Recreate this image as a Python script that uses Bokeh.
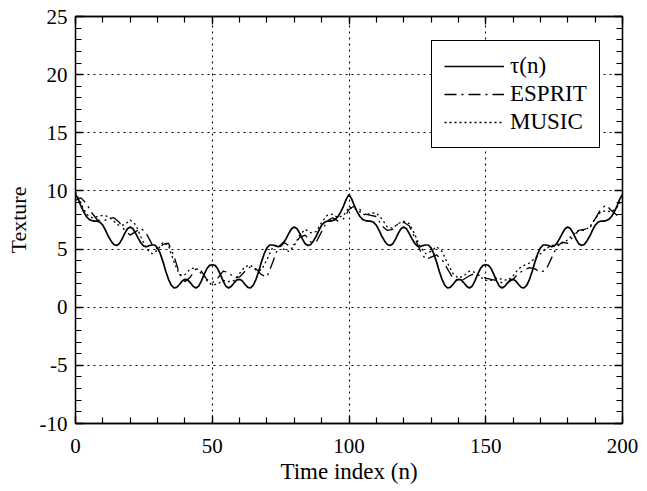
from bokeh.plotting import figure
from bokeh.models import (Range1d, LinearAxis, FixedTicker, Legend, LegendItem)
from bokeh.embed import file_html
from bokeh.resources import INLINE

# ---- data ----
n_tau = list(range(0, 201))
tau = [
    9.7, 9.3, 8.7, 8.2, 7.8, 7.55, 7.45, 7.4, 7.4, 7.3,
    7.05, 6.6, 6.1, 5.7, 5.4, 5.3, 5.45, 5.85, 6.35, 6.75,
    6.9, 6.75, 6.35, 5.9, 5.5, 5.25, 5.2, 5.3, 5.35, 5.35,
    5.1, 4.6, 3.9, 3.1, 2.4, 1.9, 1.65, 1.7, 1.95, 2.25,
    2.4, 2.35, 2.1, 1.8, 1.65, 1.8, 2.25, 2.8, 3.3, 3.6,
    3.65, 3.6, 3.3, 2.8, 2.25, 1.8, 1.65, 1.8, 2.1, 2.35,
    2.4, 2.25, 1.95, 1.7, 1.65, 1.9, 2.4, 3.1, 3.9, 4.6,
    5.1, 5.35, 5.35, 5.3, 5.2, 5.25, 5.5, 5.9, 6.35, 6.75,
    6.9, 6.75, 6.35, 5.85, 5.45, 5.3, 5.4, 5.7, 6.1, 6.6,
    7.05, 7.3, 7.4, 7.4, 7.45, 7.55, 7.8, 8.2, 8.7, 9.3,
    9.7, 9.3, 8.7, 8.2, 7.8, 7.55, 7.45, 7.4, 7.4, 7.3,
    7.05, 6.6, 6.1, 5.7, 5.4, 5.3, 5.45, 5.85, 6.35, 6.75,
    6.9, 6.75, 6.35, 5.9, 5.5, 5.25, 5.2, 5.3, 5.35, 5.35,
    5.1, 4.6, 3.9, 3.1, 2.4, 1.9, 1.65, 1.7, 1.95, 2.25,
    2.4, 2.35, 2.1, 1.8, 1.65, 1.8, 2.25, 2.8, 3.3, 3.6,
    3.65, 3.6, 3.3, 2.8, 2.25, 1.8, 1.65, 1.8, 2.1, 2.35,
    2.4, 2.25, 1.95, 1.7, 1.65, 1.9, 2.4, 3.1, 3.9, 4.6,
    5.1, 5.35, 5.35, 5.3, 5.2, 5.25, 5.5, 5.9, 6.35, 6.75,
    6.9, 6.75, 6.35, 5.85, 5.45, 5.3, 5.4, 5.7, 6.1, 6.6,
    7.05, 7.3, 7.4, 7.4, 7.45, 7.55, 7.8, 8.2, 8.7, 9.3,
    9.7,
]

n_est = list(range(0, 201, 2))
esprit = [
    9.2, 9.4, 8.9, 8.1, 7.5, 7.4, 7.6, 7.7, 7.3, 6.6,
    6.2, 6.5, 6.8, 6.3, 5.4, 5.0, 5.4, 5.5, 4.4, 2.9,
    2.2, 2.6, 3.3, 3.1, 2.4, 2.1, 2.5, 3.1, 3.0, 2.5,
    2.6, 3.1, 3.5, 3.3, 2.8, 2.6, 3.8, 5.1, 5.6, 5.3,
    5.4, 6.0, 6.2, 5.6, 5.6, 6.5, 7.4, 7.7, 7.4, 7.6,
    8.4, 8.7, 8.4, 8.0, 7.9, 7.8, 7.0, 6.6, 6.7, 7.2,
    7.3, 7.0, 6.0, 4.9, 4.1, 4.3, 4.5, 4.1, 3.3, 2.5,
    2.3, 2.4, 2.7, 2.9, 2.7, 2.5, 2.4, 2.3, 2.1, 2.1,
    2.4, 2.9, 3.2, 3.4, 3.3, 3.0, 3.2, 4.2, 5.2, 5.6,
    5.5, 6.1, 6.6, 6.7, 6.8, 7.6, 8.4, 8.8, 8.3, 7.9,
    7.7,
]
music = [
    9.9, 8.9, 8.0, 7.7, 7.8, 7.9, 7.8, 7.4, 7.0, 7.1,
    7.5, 7.1, 6.0, 5.0, 4.6, 4.9, 5.6, 5.3, 3.9, 2.8,
    2.8, 3.3, 3.4, 2.9, 2.3, 1.9, 2.0, 2.3, 2.2, 2.3,
    2.9, 3.5, 3.6, 3.2, 3.2, 4.1, 5.1, 5.4, 5.0, 4.8,
    5.3, 6.2, 6.7, 6.4, 6.5, 7.3, 7.9, 8.0, 7.7, 7.9,
    8.6, 8.5, 8.2, 7.9, 8.1, 8.1, 7.6, 6.9, 6.8, 7.2,
    7.4, 7.2, 6.3, 5.2, 4.6, 4.8, 5.2, 4.8, 3.8, 2.9,
    2.5, 2.7, 3.1, 3.0, 2.6, 2.3, 2.3, 2.5, 2.4, 2.3,
    2.7, 3.3, 3.6, 3.8, 4.2, 4.6, 5.0, 5.3, 5.4, 5.5,
    5.8, 6.3, 6.6, 6.6, 6.9, 7.6, 8.2, 8.3, 8.2, 8.6,
    9.3,
]

x_ticks = [0, 50, 100, 150, 200]
y_ticks = [-10, -5, 0, 5, 10, 15, 20, 25]
y_tick_labels = ["-10", "-5", "0", "5", "10", "15", "20", "25"]
series_labels = ["\u03c4(n)", "ESPRIT", "MUSIC"]

FONT = "Liberation Serif"

p = figure(width=647, height=491, output_backend="svg", toolbar_location=None,
           x_range=Range1d(0, 200), y_range=Range1d(-10, 25),
           min_border_left=75, min_border_right=25, min_border_top=16,
           min_border_bottom=68, x_axis_label="Time index (n)",
           y_axis_label="Texture")
p.background_fill_color = "white"
p.border_fill_color = "white"
p.outline_line_color = "black"
p.outline_line_width = 1.3

r_tau = p.line(n_tau, tau, line_color="black", line_width=1.7)
r_esp = p.line(n_est, esprit, line_color="black", line_width=1.3,
               line_dash="12 5 2 5")
r_mus = p.line(n_est, music, line_color="black", line_width=1.3,
               line_dash="2 3")

for ax in (p.xaxis[0], p.yaxis[0]):
    ax.major_tick_in = 8
    ax.major_tick_out = 0
    ax.minor_tick_in = 6
    ax.minor_tick_out = 0
    ax.axis_line_color = "black"
    ax.axis_line_width = 1.3
    ax.major_tick_line_color = "black"
    ax.major_tick_line_width = 1.3
    ax.minor_tick_line_color = "black"
    ax.minor_tick_line_width = 1.2
    ax.major_label_text_font = FONT
    ax.major_label_text_font_size = "21px"
    ax.major_label_text_color = "black"
    ax.axis_label_text_font = FONT
    ax.axis_label_text_font_style = "normal"
    ax.axis_label_text_color = "black"

p.xaxis[0].axis_label_text_font_size = "23px"
p.yaxis[0].axis_label_text_font_size = "22px"
p.xaxis[0].ticker = FixedTicker(ticks=x_ticks, minor_ticks=list(range(0, 201, 10)))
p.yaxis[0].ticker = FixedTicker(ticks=y_ticks, minor_ticks=list(range(-10, 26, 1)))
p.yaxis[0].major_label_overrides = {t: l for t, l in zip(y_ticks, y_tick_labels)}
p.xaxis[0].major_label_standoff = 15
p.yaxis[0].major_label_standoff = 8
p.xaxis[0].axis_label_standoff = 3
p.yaxis[0].axis_label_standoff = 6

# mirrored axes (top and right), ticks only
top = LinearAxis(ticker=FixedTicker(ticks=x_ticks, minor_ticks=list(range(0, 201, 10))))
right = LinearAxis(ticker=FixedTicker(ticks=y_ticks, minor_ticks=list(range(-10, 26, 1))))
top.major_label_overrides = {t: "" for t in x_ticks}
right.major_label_overrides = {t: "" for t in y_ticks}
for ax in (top, right):
    ax.major_tick_in = 8
    ax.major_tick_out = 0
    ax.minor_tick_in = 6
    ax.minor_tick_out = 0
    ax.major_label_standoff = 0
    ax.axis_line_color = "black"
    ax.axis_line_width = 1.3
    ax.major_tick_line_width = 1.3
    ax.minor_tick_line_width = 1.2
p.add_layout(top, "above")
p.add_layout(right, "right")

p.xgrid.ticker = FixedTicker(ticks=x_ticks)
p.ygrid.ticker = FixedTicker(ticks=y_ticks)
for g in (p.xgrid[0], p.ygrid[0]):
    g.grid_line_color = "black"
    g.grid_line_dash = "2 4"
    g.grid_line_width = 1.1

legend = Legend(items=[LegendItem(label=series_labels[0], renderers=[r_tau]),
                       LegendItem(label=series_labels[1], renderers=[r_esp]),
                       LegendItem(label=series_labels[2], renderers=[r_mus])],
                location=(356, 275))
legend.label_text_font = FONT
legend.label_text_font_size = "23px"
legend.label_text_color = "black"
legend.glyph_width = 60
legend.glyph_height = 20
legend.label_height = 26
legend.spacing = 2
legend.padding = 12
legend.margin = 0
legend.label_standoff = 6
legend.border_line_color = "black"
legend.border_line_width = 1.3
legend.border_line_alpha = 1
legend.background_fill_alpha = 1
p.add_layout(legend)

open("out.html", "w").write(file_html(p, INLINE))
